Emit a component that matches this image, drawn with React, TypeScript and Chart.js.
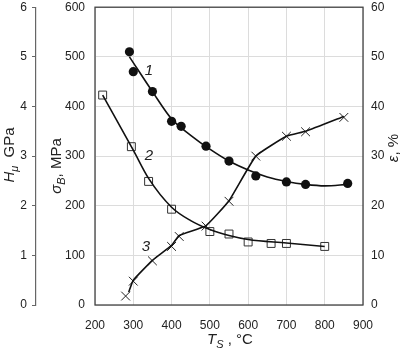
import React, { useEffect, useRef } from "react";
import { Chart, registerables } from "chart.js";
Chart.register(...registerables);

// Curve 1: strength sigma_B (MPa) — measured points
const s1T = [290, 300, 350, 400, 425, 490, 550, 620, 700, 750, 860];
const s1V = [510, 470, 430, 370, 360, 320, 290, 260, 248, 243, 245];
// Curve 1: fitted line
const c1T = [290, 350, 400, 450, 500, 550, 600, 650, 700, 750, 800, 860];
const c1V = [500, 430, 375, 342, 314, 290, 272, 258, 249, 243, 240, 243];

// Curve 2: microhardness H (GPa) — measured points
const s2T = [220, 295, 340, 400, 500, 550, 600, 660, 700, 800];
const s2V = [4.23, 3.19, 2.49, 1.93, 1.48, 1.43, 1.27, 1.24, 1.24, 1.18];
// Curve 2: fitted line
const c2T = [220, 300, 340, 400, 450, 500, 550, 600, 700, 800];
const c2V = [4.23, 3.12, 2.55, 1.97, 1.7, 1.52, 1.4, 1.32, 1.25, 1.18];

// Curve 3: elongation eps (%) — measured points
const s3T = [280, 300, 350, 400, 420, 490, 550, 620, 700, 750, 850];
const s3V = [1.8, 4.8, 8.9, 11.8, 13.8, 15.9, 20.9, 30, 34, 34.9, 37.8];
// Curve 3: line
const c3T = [288, 300, 350, 400, 420, 490, 550, 620, 700, 750, 850];
const c3V = [2.6, 5, 9, 12, 14, 16, 21, 30, 34, 35, 38];

const FONT = "'Liberation Sans', Arial, sans-serif";

type Seg = { t: string; it?: boolean; sub?: boolean };

function drawRich(ctx: CanvasRenderingContext2D, cx: number, cy: number, rot: number, segs: Seg[], size: number) {
  ctx.save();
  ctx.translate(cx, cy);
  ctx.rotate(rot);
  ctx.fillStyle = "#222";
  ctx.textBaseline = "middle";
  ctx.textAlign = "left";
  const fontFor = (s: Seg) => `${s.it ? "italic " : ""}${s.sub ? Math.round(size * 0.7) : size}px ${FONT}`;
  let total = 0;
  for (const s of segs) {
    ctx.font = fontFor(s);
    total += ctx.measureText(s.t).width;
  }
  let x = -total / 2;
  for (const s of segs) {
    ctx.font = fontFor(s);
    ctx.fillText(s.t, x, s.sub ? size * 0.3 : 0);
    x += ctx.measureText(s.t).width;
  }
  ctx.restore();
}

const decorPlugin = {
  id: "decor",
  afterDraw(chart: any) {
    const { ctx, chartArea: a } = chart;
    ctx.save();
    ctx.strokeStyle = "#444";
    ctx.lineWidth = 1.3;
    ctx.strokeRect(a.left, a.top, a.right - a.left, a.bottom - a.top);
    ctx.restore();
    drawRich(ctx, 10, 155, -Math.PI / 2, [{ t: "H", it: true }, { t: "\u03BC", it: true, sub: true }, { t: "  GPa" }], 15);
    drawRich(ctx, 57, 166, -Math.PI / 2, [{ t: "\u03C3", it: true }, { t: "B", it: true, sub: true }, { t: ", MPa" }], 15);
    drawRich(ctx, 394, 148, -Math.PI / 2, [{ t: "\u03B5", it: true }, { t: ", %" }], 15);
    drawRich(ctx, 230, 340, 0, [{ t: "T", it: true }, { t: "S", it: true, sub: true }, { t: " , \u00B0C" }], 15);
    drawRich(ctx, 149, 71, 0, [{ t: "1", it: true }], 15);
    drawRich(ctx, 149, 156, 0, [{ t: "2", it: true }], 15);
    drawRich(ctx, 146, 247, 0, [{ t: "3", it: true }], 15);
  },
};

const pts = (xs: number[], ys: number[]) => xs.map((x, i) => ({ x, y: ys[i] }));

const fitV = (w: number) => (s: any) => {
  s.width = w;
  s.paddingTop = 0;
  s.paddingBottom = 0;
};

export default function App() {
  const ref = useRef<HTMLCanvasElement>(null);
  useEffect(() => {
    if (!ref.current) return;
    const lineBase = {
      type: "line" as const,
      showLine: true,
      pointRadius: 0,
      borderColor: "#111",
      borderWidth: 1.6,
      fill: false,
    };
    const chart = new Chart(ref.current, {
      type: "scatter",
      data: {
        datasets: [
          { ...lineBase, data: pts(c1T, c1V), yAxisID: "y", cubicInterpolationMode: "monotone" },
          { ...lineBase, data: pts(c2T, c2V), yAxisID: "yH", cubicInterpolationMode: "monotone" },
          { ...lineBase, data: pts(c3T, c3V), yAxisID: "y2", tension: 0.12 },
          {
            data: pts(s1T, s1V),
            yAxisID: "y",
            pointStyle: "circle",
            pointRadius: 4.6,
            backgroundColor: "#111",
            borderColor: "#111",
            borderWidth: 0,
          },
          {
            data: pts(s2T, s2V),
            yAxisID: "yH",
            pointStyle: "rect",
            pointRadius: 5.6,
            backgroundColor: "rgba(255,255,255,0)",
            borderColor: "#333",
            borderWidth: 1,
          },
          {
            data: pts(s3T, s3V),
            yAxisID: "y2",
            pointStyle: "crossRot",
            pointRadius: 6.2,
            backgroundColor: "#222",
            borderColor: "#222",
            borderWidth: 1,
          },
        ] as any,
      },
      options: {
        responsive: false,
        animation: false,
        devicePixelRatio: 1,
        layout: { padding: { top: 6, left: 0, right: 0, bottom: 0 } },
        plugins: { legend: { display: false }, tooltip: { enabled: false } },
        scales: {
          x: {
            type: "linear",
            min: 200,
            max: 900,
            ticks: { stepSize: 100, color: "#222", font: { family: FONT, size: 12 }, padding: 13 },
            grid: { color: "#dcdcdc", drawTicks: false },
            border: { display: false },
            afterFit: (s: any) => { s.height = 49; s.paddingLeft = 0; s.paddingRight = 0; },
          },
          y: {
            position: "left",
            weight: 0,
            min: 0,
            max: 600,
            ticks: { stepSize: 100, color: "#222", font: { family: FONT, size: 12 }, padding: 10 },
            grid: { color: "#dcdcdc", drawTicks: false },
            border: { display: false },
            afterFit: fitV(59),
          },
          yH: {
            position: "left",
            weight: 1,
            min: 0,
            max: 6,
            ticks: { stepSize: 1, color: "#222", font: { family: FONT, size: 12 }, padding: 5 },
            grid: { drawOnChartArea: false, drawTicks: true, tickLength: 4, color: "#666" },
            border: { display: true, color: "#666", width: 1.2 },
            afterFit: fitV(36),
          },
          y2: {
            position: "right",
            min: 0,
            max: 60,
            ticks: { stepSize: 10, color: "#222", font: { family: FONT, size: 12 }, padding: 8 },
            grid: { drawOnChartArea: false, drawTicks: false },
            border: { display: false },
            afterFit: fitV(37),
          },
        },
      } as any,
      plugins: [decorPlugin],
    });
    return () => chart.destroy();
  }, []);
  return (
    <div style={{ position: "absolute", left: 0, top: 0, width: 400, height: 354, background: "#fff" }}>
      <canvas ref={ref} width={400} height={354} />
    </div>
  );
}
